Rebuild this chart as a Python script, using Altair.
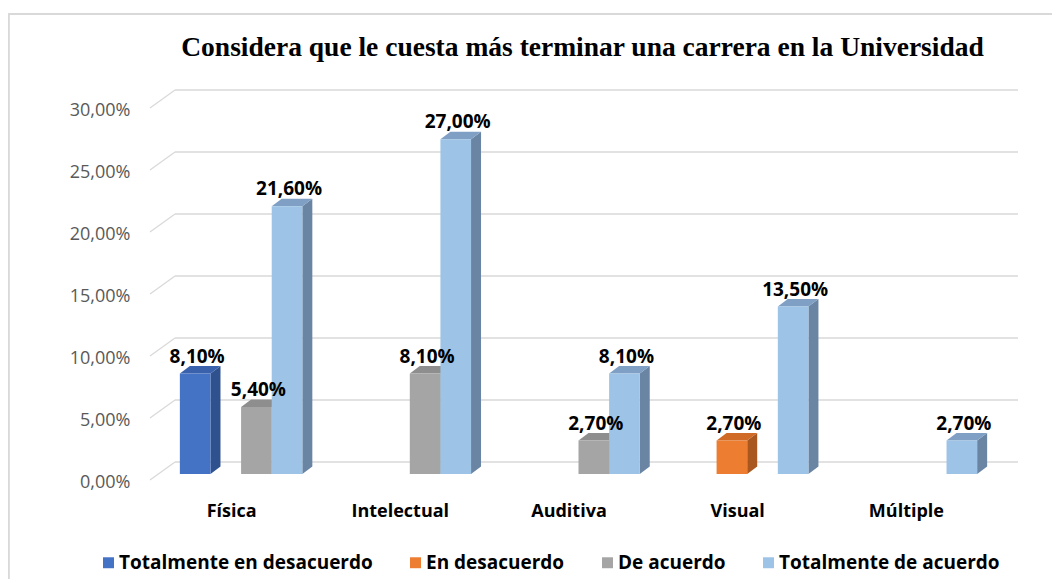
import altair as alt
import pandas as pd
import json

# ---------------- data ----------------
categories = ["Física", "Intelectual", "Auditiva", "Visual", "Múltiple"]
series = ["Totalmente en desacuerdo", "En desacuerdo", "De acuerdo", "Totalmente de acuerdo"]
tot_desacuerdo = [8.10, None, None, None, None]
en_desacuerdo = [None, None, None, 2.70, None]
de_acuerdo = [5.40, 8.10, 2.70, None, None]
tot_acuerdo = [21.60, 27.00, 8.10, 13.50, 2.70]
y_ticks = [0, 5, 10, 15, 20, 25, 30]
title_text = "Considera que le cuesta más terminar una carrera en la Universidad"

# ---------------- style ----------------
front_colors = ["#4472C4", "#ED7D31", "#A5A5A5", "#9DC3E6"]
top_colors = ["#3A62AC", "#CF6A27", "#8E8E8E", "#7F9FC4"]
side_colors = ["#2F528F", "#A9561F", "#7A7A7A", "#6A84A3"]
grid_color = "#D9D9D9"

W, H = 857, 372
X_DOMAIN = [-0.54, 4.54]
STEP = W / (X_DOMAIN[1] - X_DOMAIN[0])  # px per category
SLOT = 0.1815                              # bar width in category units
DX = 10 / STEP                             # 3D depth (x) in data units
DY = 7.5 / (H / 30)                        # 3D depth (y) in data units
BACK_X, BACK_Y = 25, 18                    # back wall offset in px
LIFT = 6                                   # bars sit slightly behind the front edge

all_series = [tot_desacuerdo, en_desacuerdo, de_acuerdo, tot_acuerdo]

bars, sides, tops = [], [], []
for k, (s, vals) in enumerate(zip(series, all_series)):
    for i, (c, v) in enumerate(zip(categories, vals)):
        if v is None:
            continue
        xl = i + (k - 2) * SLOT
        xr = xl + SLOT
        bid = f"{i}-{k}"
        bars.append(dict(id=bid, series=s, category=c, value=v, xl=xl, xr=xr,
                         xc=(xl + xr) / 2,
                         label=f"{v:.2f}".replace(".", ",") + "%"))
        sides += [dict(id=bid, series=s, x=xr, y=v, y2=0),
                  dict(id=bid, series=s, x=xr + DX, y=v + DY, y2=DY)]
        tops += [dict(id=bid, series=s, x=xl, y=v, y2=v),
                 dict(id=bid, series=s, x=xl + DX, y=v + DY, y2=v),
                 dict(id=bid, series=s, x=xr, y=v + DY, y2=v),
                 dict(id=bid, series=s, x=xr + DX, y=v + DY, y2=v + DY)]

bars_df = pd.DataFrame(bars)
sides_df = pd.DataFrame(sides)
tops_df = pd.DataFrame(tops)
ticks_df = pd.DataFrame({"tick": y_ticks})
title_df = pd.DataFrame({"text": [title_text]})

cat_js = json.dumps(categories)

xscale = alt.Scale(domain=X_DOMAIN, nice=False, zero=False)
yscale = alt.Scale(domain=[0, 30], nice=False)
xaxis = alt.Axis(values=list(range(len(categories))), labelExpr=f"{cat_js}[datum.value]",
                 title=None, grid=False, ticks=False, domain=False,
                 labelFont="Open Sans", labelFontSize=18, labelFontWeight="bold",
                 labelColor="#000000", labelPadding=22, labelOffset=-10, labelFlush=False)
yaxis = alt.Axis(values=y_ticks,
                 labelExpr="replace(format(datum.value, '.2f'), '.', ',') + '%'",
                 title=None, grid=False, ticks=False, domain=False,
                 labelFont="Open Sans", labelFontSize=18, labelColor="#595959",
                 labelPadding=20, labelOffset=2)


def X(f):
    return alt.X(f, type="quantitative", scale=xscale, axis=xaxis)


def Y(f):
    return alt.Y(f, type="quantitative", scale=yscale, axis=yaxis)


grid_slant = alt.Chart(ticks_df).mark_rule(color=grid_color, strokeWidth=1.3,
                                           y2Offset=-BACK_Y).encode(
    x=alt.value(0), x2=alt.value(BACK_X), y=Y("tick"), y2="tick:Q")
grid_back = alt.Chart(ticks_df).mark_rule(color=grid_color, strokeWidth=1.3,
                                          yOffset=-BACK_Y, y2Offset=-BACK_Y).encode(
    x=alt.value(BACK_X), x2=alt.value(W + 11), y=Y("tick"), y2="tick:Q")

side_layer = alt.Chart(sides_df).mark_area(yOffset=-LIFT, y2Offset=-LIFT, interpolate="linear").encode(
    x=X("x"), y=Y("y"), y2="y2:Q", detail="id:N",
    color=alt.Color("series:N", scale=alt.Scale(domain=series, range=side_colors), legend=None))
top_layer = alt.Chart(tops_df).mark_area(yOffset=-LIFT, y2Offset=-LIFT, interpolate="linear").encode(
    x=X("x"), y=Y("y"), y2="y2:Q", detail="id:N",
    color=alt.Color("series:N", scale=alt.Scale(domain=series, range=top_colors), legend=None))
front_layer = alt.Chart(bars_df).mark_rect(yOffset=-LIFT, y2Offset=-LIFT).encode(
    x=X("xl"), x2="xr:Q", y=Y("value"), y2=alt.datum(0),
    color=alt.Color("series:N", scale=alt.Scale(domain=series, range=front_colors),
                    sort=series,
                    legend=alt.Legend(orient="none", legendX=-51, legendY=445,
                                      direction="horizontal", title=None,
                                      symbolType="square", symbolSize=120,
                                      symbolStrokeWidth=0, labelOffset=1,
                                      labelFont="Open Sans", labelFontSize=19,
                                      labelFontWeight="bold", labelColor="#000000",
                                      columnPadding=33, labelLimit=400)))
label_layer = alt.Chart(bars_df).mark_text(font="Open Sans", fontSize=19, fontWeight="bold",
                                           baseline="alphabetic", dy=-17, dx=2,
                                           color="#000000").encode(
    x=X("xc"), y=Y("value"), text="label:N")

title_layer = alt.Chart(title_df).mark_text(font="Liberation Serif", fontSize=27.5,
                                            fontWeight="bold", color="#000000",
                                            align="center", baseline="alphabetic").encode(
    x=alt.value(W / 2 + 4), y=alt.value(-52), text="text:N")

frame_top = alt.Chart(ticks_df).mark_rule(color=grid_color, strokeWidth=1.5).encode(
    x=alt.value(-141.5), x2=alt.value(W + 45), y=alt.value(-94))
frame_left = alt.Chart(ticks_df).mark_rule(color=grid_color, strokeWidth=1.5).encode(
    x=alt.value(-141.5), y=alt.value(-94), y2=alt.value(H + 99))

chart = alt.layer(frame_top, frame_left, grid_slant, grid_back, side_layer, top_layer,
                  front_layer, label_layer, title_layer).resolve_scale(color="independent").properties(
    width=W, height=H,
    padding={"left": 142, "top": 100, "right": 45, "bottom": 99},
    autosize=alt.AutoSizeParams(type="none"),
    background="white",
).configure_view(stroke=None)

chart.save("out.html", embed_options={"renderer": "svg", "actions": False})
